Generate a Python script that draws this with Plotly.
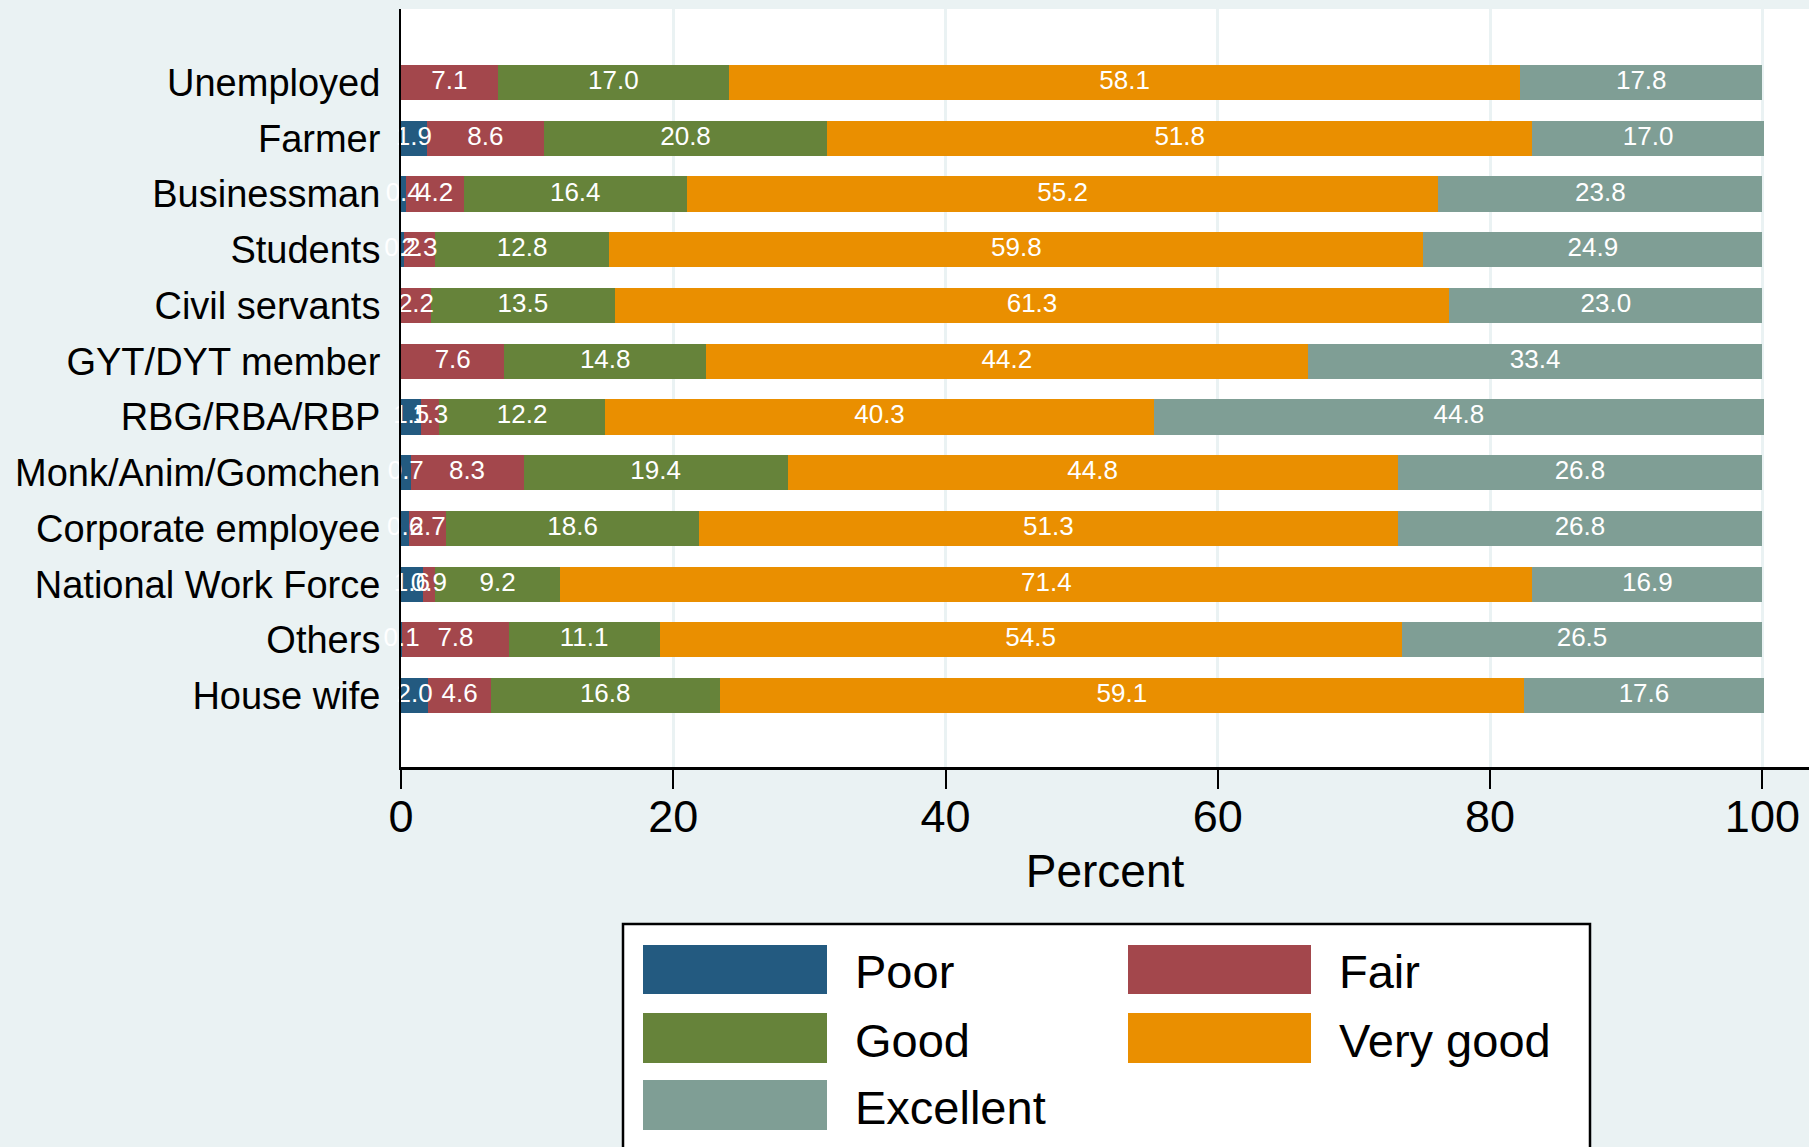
import plotly.graph_objects as go

# ---- data ----
categories = ["Unemployed", "Farmer", "Businessman", "Students", "Civil servants",
              "GYT/DYT member", "RBG/RBA/RBP", "Monk/Anim/Gomchen",
              "Corporate employee", "National Work Force", "Others", "House wife"]
series_names = ["Poor", "Fair", "Good", "Very good", "Excellent"]
poor      = [0.0, 1.9, 0.4, 0.2, 0.0, 0.0, 1.5, 0.7, 0.6, 1.6, 0.1, 2.0]
fair      = [7.1, 8.6, 4.2, 2.3, 2.2, 7.6, 1.3, 8.3, 2.7, 0.9, 7.8, 4.6]
good      = [17.0, 20.8, 16.4, 12.8, 13.5, 14.8, 12.2, 19.4, 18.6, 9.2, 11.1, 16.8]
very_good = [58.1, 51.8, 55.2, 59.8, 61.3, 44.2, 40.3, 44.8, 51.3, 71.4, 54.5, 59.1]
excellent = [17.8, 17.0, 23.8, 24.9, 23.0, 33.4, 44.8, 26.8, 26.8, 16.9, 26.5, 17.6]
series_values = [poor, fair, good, very_good, excellent]
colors = ["#235A80", "#A3474C", "#66833A", "#EA8F00", "#7F9E95"]
x_ticks = [0, 20, 40, 60, 80, 100]

# ---- geometry (pixels) ----
W, H = 1809, 1147
L, R, T, B = 401, 0, 9, 380
PW, PH = W - L - R, H - T - B
BG = "#EAF2F3"
FONT = "Liberation Sans, Arial, Helvetica, sans-serif"


def px(xp):
    return (xp - L) / PW


def py(yp):
    return (H - B - yp) / PH


fig = go.Figure()
for name, vals, col in zip(series_names, series_values, colors):
    fig.add_trace(go.Bar(
        y=categories, x=vals, name=name, orientation="h",
        marker=dict(color=col, line=dict(width=0)),
        cliponaxis=False, showlegend=False, hoverinfo="x+y+name",
    ))

# value labels on top of all bars, centred in each segment
lab_x, lab_y, lab_t = [], [], []
for i, cat in enumerate(categories):
    start = 0.0
    for vals in series_values:
        v = vals[i]
        if v > 0:
            lab_x.append(start + v / 2)
            lab_y.append(cat)
            lab_t.append(f"{v:.1f}")
        start += v
fig.add_trace(go.Scatter(
    x=lab_x, y=lab_y, text=lab_t, mode="text",
    textposition="middle center",
    textfont=dict(color="white", size=26, family=FONT),
    cliponaxis=False, showlegend=False, hoverinfo="skip",
))

fig.update_layout(
    width=W, height=H,
    barmode="stack", bargap=0.37,
    paper_bgcolor=BG, plot_bgcolor="white",
    margin=dict(l=L, r=R, t=T, b=B, pad=0),
    font=dict(family=FONT, color="black"),
)
fig.update_xaxes(
    range=[0, PW / 13.614], tickvals=x_ticks, ticktext=[str(t) for t in x_ticks],
    showgrid=True, gridcolor=BG, gridwidth=3, zeroline=False,
    showline=True, linecolor="black", linewidth=2.5,
    ticks="outside", ticklen=19, tickwidth=2, tickcolor="black",
    tickfont=dict(size=45, family=FONT),
    ticklabelstandoff=-11,
    title=dict(text="Percent", font=dict(size=46, family=FONT), standoff=15),
)
fig.update_yaxes(
    categoryorder="array", categoryarray=categories,
    range=[len(categories) - 1 + 1.28, -1.32],
    showgrid=False, zeroline=False,
    showline=True, linecolor="black", linewidth=2,
    ticks="", tickfont=dict(size=38, family=FONT),
    ticklabelstandoff=11,
)

# ---- legend drawn as a framed box ----
shapes = [dict(type="rect", xref="paper", yref="paper",
               x0=px(623), x1=px(1590), y0=py(924), y1=py(1175),
               line=dict(color="black", width=2.5), fillcolor="white", layer="above")]
annotations = []
col_sw_x = [(643, 827), (1128, 1311)]
col_tx_x = [853, 1337]
row_y = [(945, 994), (1013, 1063), (1080, 1130)]
for i, (name, col) in enumerate(zip(series_names, colors)):
    r, c = divmod(i, 2)
    x0, x1 = col_sw_x[c]
    y0, y1 = row_y[r]
    shapes.append(dict(type="rect", xref="paper", yref="paper",
                       x0=px(x0), x1=px(x1), y0=py(y0), y1=py(y1),
                       line=dict(width=0), fillcolor=col, layer="above"))
    annotations.append(dict(x=px(col_tx_x[c]), y=py((y0 + y1) / 2 + 2), xref="paper", yref="paper",
                            text=name, showarrow=False, xanchor="left", yanchor="middle",
                            font=dict(size=47, family=FONT, color="black")))
fig.update_layout(shapes=shapes, annotations=annotations)

fig.write_html("out.html",
               config={"displayModeBar": False},
               post_script="document.body.style.margin='0px';"
                           "document.body.style.background='" + BG + "';")
